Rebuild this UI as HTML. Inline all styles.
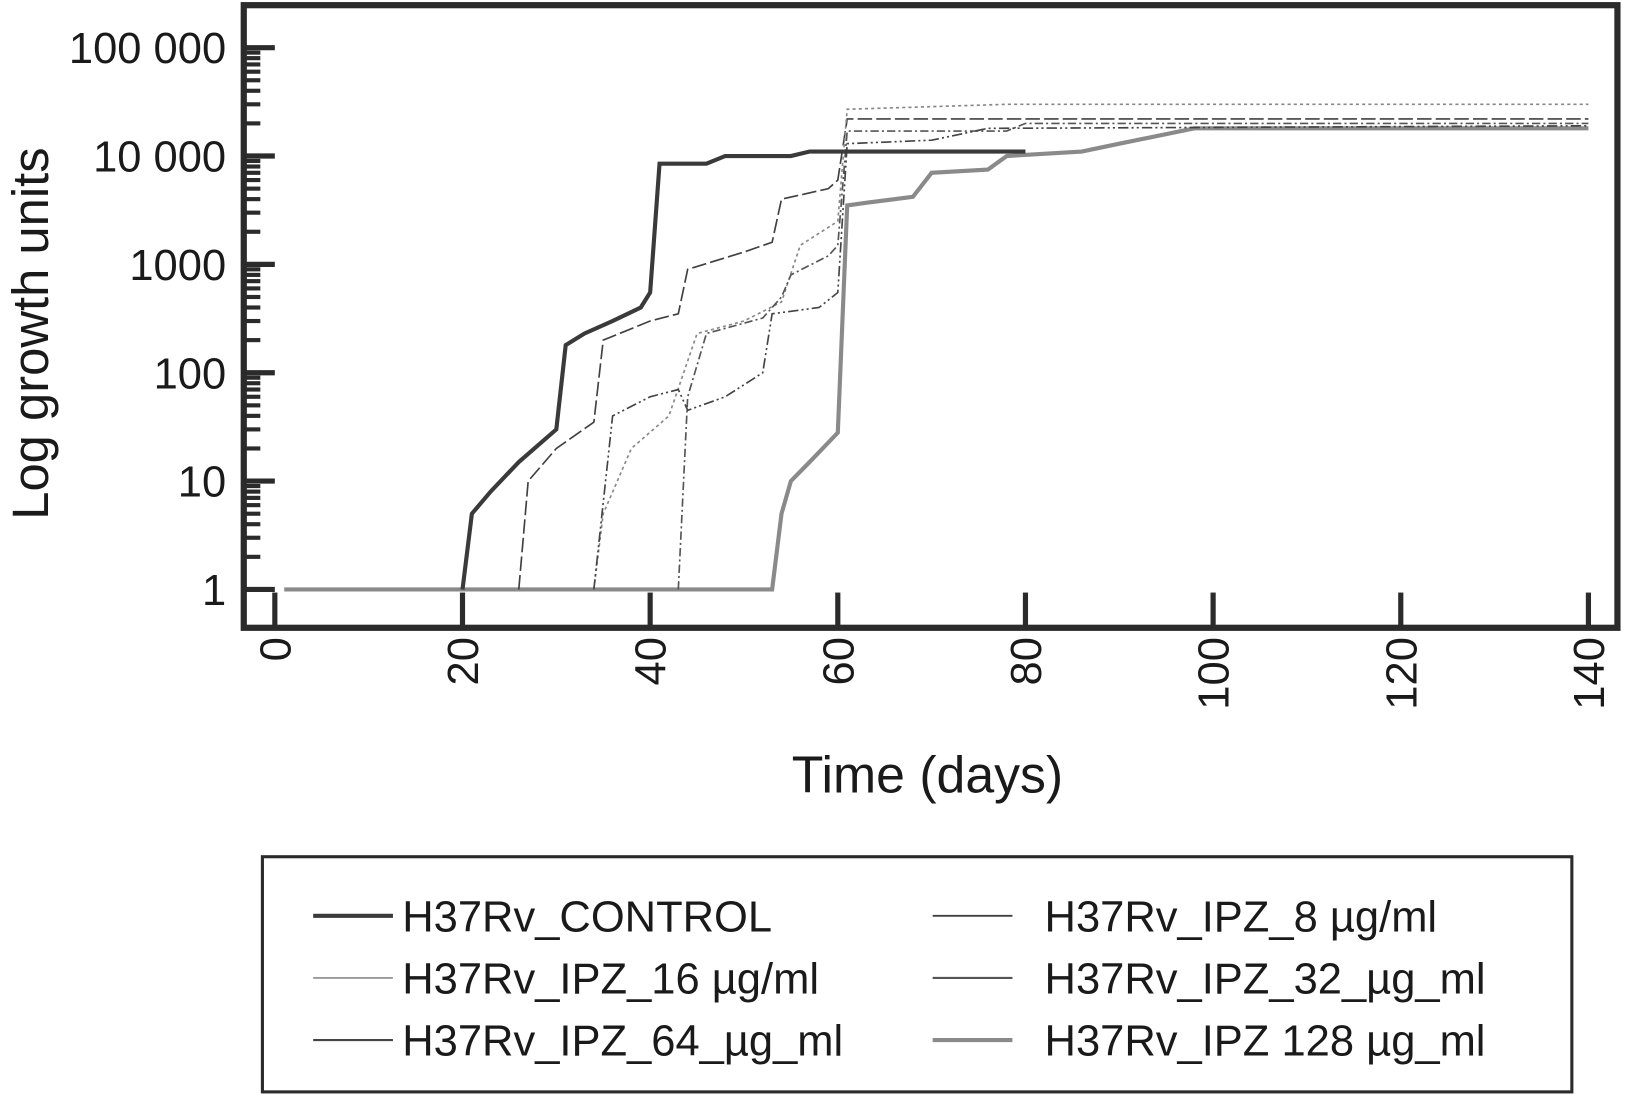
<!DOCTYPE html>
<html><head><meta charset="utf-8"><style>html,body{margin:0;padding:0;background:#fff}svg{display:block}text{font-family:"Liberation Sans",sans-serif;fill:#1a1a1a}</style></head>
<body>
<svg id="chart" width="1625" height="1095" viewBox="0 0 1568 1057" xmlns="http://www.w3.org/2000/svg">
<g id="g"></g>
</svg>
<script>
const xTicks=[0,20,40,60,80,100,120,140];
const yTicks=[1,10,100,1000,10000,100000];
const yTickLabels=["1","10","100","1000","10 000","100 000"];
const seriesNames=["H37Rv_CONTROL","H37Rv_IPZ_8 µg/ml","H37Rv_IPZ_16 µg/ml","H37Rv_IPZ_32_µg_ml","H37Rv_IPZ_64_µg_ml","H37Rv_IPZ 128 µg_ml"];
const controlDays=[20,21,23,26,30,31,33,36,39,40,41,46,48,55,57,80];
const controlVals=[1,5,8,15,30,180,230,300,400,550,8500,8500,10000,10000,11000,11000];
const ipz8Days=[26,27,30,34,35,40,43,44,50,53,54,59,60,61,140];
const ipz8Vals=[1,10,20,35,200,300,350,900,1300,1600,4000,5000,6000,22000,22000];
const ipz16Days=[34,35,38,42,45,50,54,56,60,61,78,140];
const ipz16Vals=[1,5,20,40,230,300,450,1500,2500,27000,30000,30000];
const ipz32Days=[43,44,46,52,54,55,59,60,61,78,80,140];
const ipz32Vals=[1,60,230,320,500,800,1200,1500,17000,17000,20000,20000];
const ipz64Days=[34,36,40,43,44,48,52,53,58,60,61,70,76,140];
const ipz64Vals=[1,40,60,70,45,60,100,350,400,550,13000,14000,18000,19000];
const ipz128Days=[1,53,54,55,57,60,61,63,68,70,76,78,86,90,98,140];
const ipz128Vals=[1,1,5,10,15,28,3500,3700,4200,7000,7500,10000,11000,13000,18000,18000];

const X=d=>265+d*(1533-265)/140;
const Y=v=>569-104.6*Math.log10(v);
const NS="http://www.w3.org/2000/svg";
const g=document.getElementById('g');
function mk(t,a,p){const e=document.createElementNS(NS,t);for(const k in a)e.setAttribute(k,a[k]);(p||g).appendChild(e);return e;}

const fr=mk('rect',{x:235,y:5,width:1326,height:601,fill:'none',stroke:'#2b2b2b','stroke-width':6});



yTicks.forEach((v,i)=>{
  const t=mk('line',{x1:236,x2:265,y1:Y(v),y2:Y(v),stroke:'#2b2b2b','stroke-width':5});
  
  
  const l=mk('text',{x:218,y:Y(v)+15,'text-anchor':'end','font-size':42});
  l.textContent=yTickLabels[i];
  
  
  if(i<yTicks.length-1){for(let m=2;m<=9;m++){
    const mt=mk('line',{x1:236,x2:251,y1:Y(v*m),y2:Y(v*m),stroke:'#2b2b2b','stroke-width':4});
    
    
  }}
});
xTicks.forEach(d=>{
  const t=mk('line',{x1:X(d),x2:X(d),y1:604,y2:572,stroke:'#2b2b2b','stroke-width':5});
  
  
  const l=mk('text',{transform:`translate(${X(d)+15},615) rotate(-90)`,'text-anchor':'end','font-size':42});
  l.textContent=d;
  
  
});
const yt=mk('text',{transform:'translate(46,322) rotate(-90)','text-anchor':'middle','font-size':49});
yt.textContent='Log growth units';


const xt=mk('text',{x:895,y:765,'text-anchor':'middle','font-size':50});
xt.textContent='Time (days)';



const styles=[
 {c:'#3a3a3a',w:4,d:''},
 {c:'#404040',w:1.6,d:'14 4'},
 {c:'#888',w:1.6,d:'3 3'},
 {c:'#555',w:1.6,d:'8 3 2 3'},
 {c:'#444',w:1.6,d:'10 3 2 3 2 3'},
 {c:'#8a8a8a',w:4,d:''}];
const data=[[controlDays,controlVals],[ipz8Days,ipz8Vals],[ipz16Days,ipz16Vals],[ipz32Days,ipz32Vals],[ipz64Days,ipz64Vals],[ipz128Days,ipz128Vals]];
const order=[5,1,2,3,4,0];
order.forEach(i=>{
  const [ds,vs]=data[i];const s=styles[i];
  const p=mk('polyline',{points:ds.map((d,j)=>X(d)+','+Y(vs[j])).join(' '),fill:'none',stroke:s.c,'stroke-width':s.w,'stroke-dasharray':s.d});
  
  
});

const lb=mk('rect',{x:253,y:827,width:1264,height:227,fill:'none',stroke:'#2b2b2b','stroke-width':3});


const legPos=[[0,0],[1,0],[0,1],[1,1],[0,2],[1,2]];
const legStyle=[styles[0],{c:'#404040',w:1.8,d:''},{c:'#999',w:1.8,d:''},{c:'#555',w:2,d:''},{c:'#444',w:2,d:''},styles[5]];
[0,1,2,3,4,5].forEach(i=>{
  const [col,row]=legPos[i];
  const lx=col?900:302, tx=col?1008:388, y=884+row*60;
  const ln=mk('line',{x1:lx,x2:lx+77,y1:y,y2:y,stroke:legStyle[i].c,'stroke-width':legStyle[i].w});
  
  
  const t=mk('text',{x:tx,y:y+15,'font-size':42});
  t.textContent=seriesNames[i];
  
  
});
</script>
</body></html>
